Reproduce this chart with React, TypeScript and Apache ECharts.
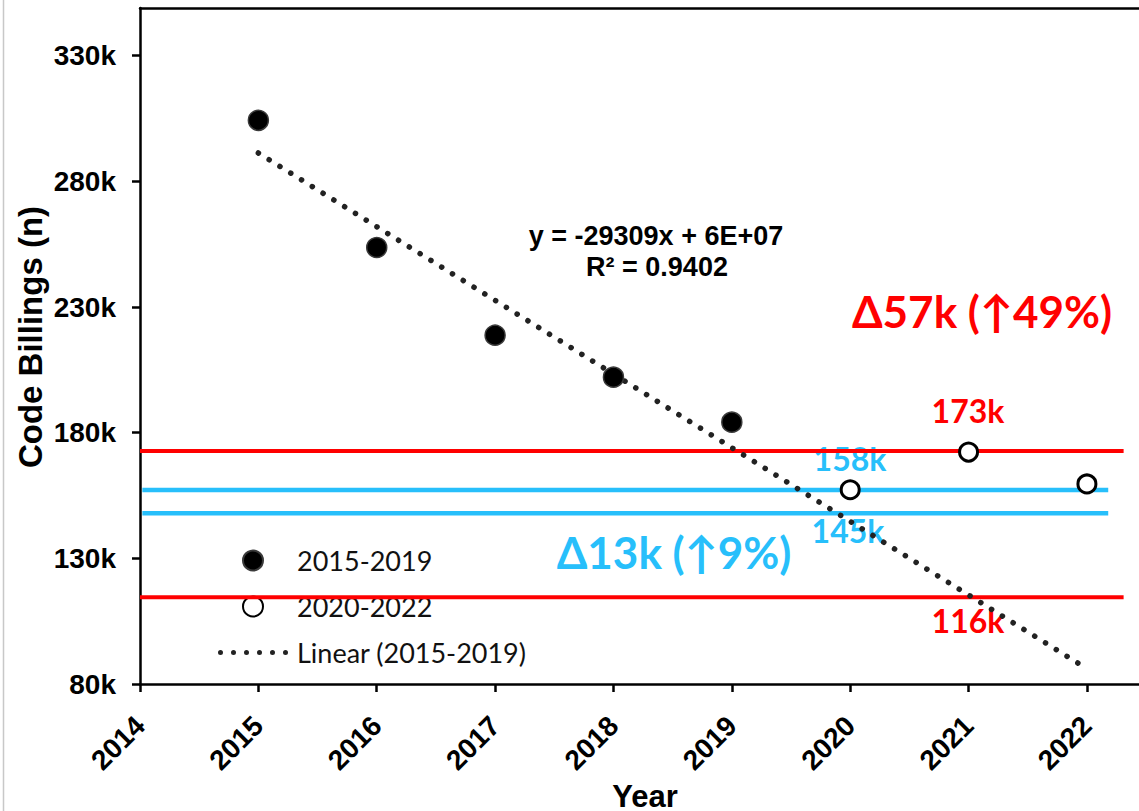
import React, { useEffect, useRef } from "react";
import * as echarts from "echarts";

// ---- data ----
const years1 = [2015, 2016, 2017, 2018, 2019];
const billings1 = [304300, 253700, 218800, 202100, 184200];
const years2 = [2020, 2021, 2022];
const billings2 = [157300, 172300, 159600];
const trendYears = [2015, 2022];
const trendValues = [291300, 86100];
const redLevels = [172700, 114500];
const redSpan = [2014, 2022.31];
const blueLevels = [157200, 147900];
const blueSpan = [2014.02, 2022.18];
const xTicks = [2014, 2015, 2016, 2017, 2018, 2019, 2020, 2021, 2022];
const yTicks = [80000, 130000, 180000, 230000, 280000, 330000];
const seriesNames = ["2015-2019", "2020-2022", "Linear (2015-2019)"];
const equationLines = ["y = -29309x + 6E+07", "R\u00b2 = 0.9402"];
const redNotes = ["\u039457k (\u219149%)", "173k", "116k"];
const blueNotes = ["\u039413k (\u21919%)", "158k", "145k"];

const RED = "#FF0000";
const BLUE = "#27BFFB";
const TREND = "#222222";
const X_MIN = 2014;
const X_MAX = 2022.44;
const Y_MIN = 80000;
const Y_MAX = 349000;

// six round dots in a row, used as the legend icon of the dotted trend line
function dottedIcon(): string {
  const r = 2.5;
  let d = "path://";
  for (let i = 0; i < 6; i++) {
    const cx = r + i * 13;
    d += `M${cx - r},${r}a${r},${r} 0 1,0 ${2 * r},0a${r},${r} 0 1,0 ${-2 * r},0Z`;
  }
  return d;
}

export default function App() {
  const ref = useRef<HTMLDivElement>(null);

  useEffect(() => {
    if (!ref.current) return;
    const chart = echarts.init(ref.current, null, { renderer: "svg" });

    const levelSeries = [
      ...redLevels.map((v) => ({
        type: "line",
        silent: true,
        symbol: "none",
        z: 2,
        lineStyle: { color: RED, width: 4 },
        data: [
          [redSpan[0], v],
          [redSpan[1], v],
        ],
      })),
      ...blueLevels.map((v) => ({
        type: "line",
        silent: true,
        symbol: "none",
        z: 2,
        lineStyle: { color: BLUE, width: 4.5 },
        data: [
          [blueSpan[0], v],
          [blueSpan[1], v],
        ],
      })),
    ];

    const font = "'Liberation Sans', Arial, sans-serif";
    const noteFont = "Lato, 'Noto Sans', sans-serif";

    const centeredText = (
      text: string,
      x: number,
      y: number,
      size: number,
      fill: string,
      family: string,
      rotation = 0
    ) => ({
      type: "text",
      x,
      y,
      rotation,
      silent: true,
      style: {
        text,
        fontFamily: family,
        fontWeight: "bold",
        fontSize: size,
        fill,
        textAlign: "center",
        textVerticalAlign: "middle",
      },
    });

    chart.setOption({
      animation: false,
      backgroundColor: "#ffffff",
      grid: { left: 140, top: 8, right: 0, bottom: 127, containLabel: false },
      xAxis: [
        {
          type: "value",
          min: X_MIN,
          max: X_MAX,
          splitLine: { show: false },
          axisLine: { show: true, onZero: false, lineStyle: { color: "#000", width: 2.5 } },
          axisTick: {
            show: true,
            customValues: xTicks,
            length: 8,
            lineStyle: { color: "#000", width: 2.5 },
          },
          axisLabel: {
            customValues: xTicks,
            rotate: 45,
            margin: 37,
            fontFamily: font,
            fontWeight: "bold",
            fontSize: 28,
            color: "#000",
            formatter: (v: number) => String(v),
          },
        },
        {
          type: "value",
          position: "top",
          min: X_MIN,
          max: X_MAX,
          splitLine: { show: false },
          axisLine: { show: true, lineStyle: { color: "#000", width: 2.5 } },
          axisTick: { show: false },
          axisLabel: { show: false },
        },
      ],
      yAxis: {
        type: "value",
        min: Y_MIN,
        max: Y_MAX,
        splitLine: { show: false },
        axisLine: { show: true, onZero: false, lineStyle: { color: "#000", width: 2.5 } },
        axisTick: {
          show: true,
          customValues: yTicks,
          length: 8,
          lineStyle: { color: "#000", width: 2.5 },
        },
        axisLabel: {
          customValues: yTicks,
          margin: 24,
          fontFamily: font,
          fontWeight: "bold",
          fontSize: 28,
          color: "#000",
          formatter: (v: number) => `${Math.round(v / 1000)}k`,
        },
      },
      legend: {
        data: [
          { name: seriesNames[0] },
          { name: seriesNames[1] },
          { name: seriesNames[2], icon: dottedIcon(), itemStyle: { color: TREND } },
        ],
        orient: "vertical",
        left: 213,
        top: 542,
        z: 1,
        itemWidth: 70,
        itemHeight: 20,
        itemGap: 19,
        textStyle: {
          fontFamily: noteFont,
          fontSize: 27,
          color: "#111",
          padding: [0, 0, 0, 4],
        },
      },
      series: [
        ...levelSeries,
        {
          name: seriesNames[2],
          type: "line",
          symbol: "none",
          z: 3,
          lineStyle: {
            color: TREND,
            width: 5.5,
            type: [0.1, 12.6],
            cap: "round",
          },
          itemStyle: { color: TREND },
          data: trendYears.map((x, i) => [x, trendValues[i]]),
        },
        {
          name: seriesNames[0],
          type: "scatter",
          symbol: "circle",
          symbolSize: 20,
          z: 4,
          itemStyle: { color: "#000", borderColor: "#3a3a3a", borderWidth: 1.5, opacity: 1 },
          data: years1.map((x, i) => [x, billings1[i]]),
        },
        {
          name: seriesNames[1],
          type: "scatter",
          symbol: "circle",
          symbolSize: 18,
          z: 4,
          itemStyle: { color: "#fff", borderColor: "#000", borderWidth: 3, opacity: 1 },
          data: years2.map((x, i) => [x, billings2[i]]),
        },
      ],
      graphic: [
        {
          type: "line",
          silent: true,
          shape: { x1: 3.5, y1: 0, x2: 3.5, y2: 811 },
          style: { stroke: "#c8c8c8", lineWidth: 1.5 },
        },
        centeredText("Year", 645, 796, 31, "#000", font),
        centeredText("Code Billings (n)", 30, 337, 33, "#000", font, Math.PI / 2),
        centeredText(equationLines[0], 656, 236, 27, "#000", font),
        centeredText(equationLines[1], 657, 267, 27, "#000", font),
        centeredText(redNotes[0], 982, 311, 44, RED, noteFont),
        centeredText(redNotes[1], 968, 410, 32, RED, noteFont),
        centeredText(redNotes[2], 968, 620, 32, RED, noteFont),
        centeredText(blueNotes[0], 674, 552, 44, BLUE, noteFont),
        centeredText(blueNotes[1], 850, 458, 32, BLUE, noteFont),
        centeredText(blueNotes[2], 848, 530, 32, BLUE, noteFont),
      ],
    });

    return () => chart.dispose();
  }, []);

  return (
    <div
      ref={ref}
      style={{ position: "absolute", left: 0, top: 0, width: 1139, height: 811, background: "#fff" }}
    />
  );
}
